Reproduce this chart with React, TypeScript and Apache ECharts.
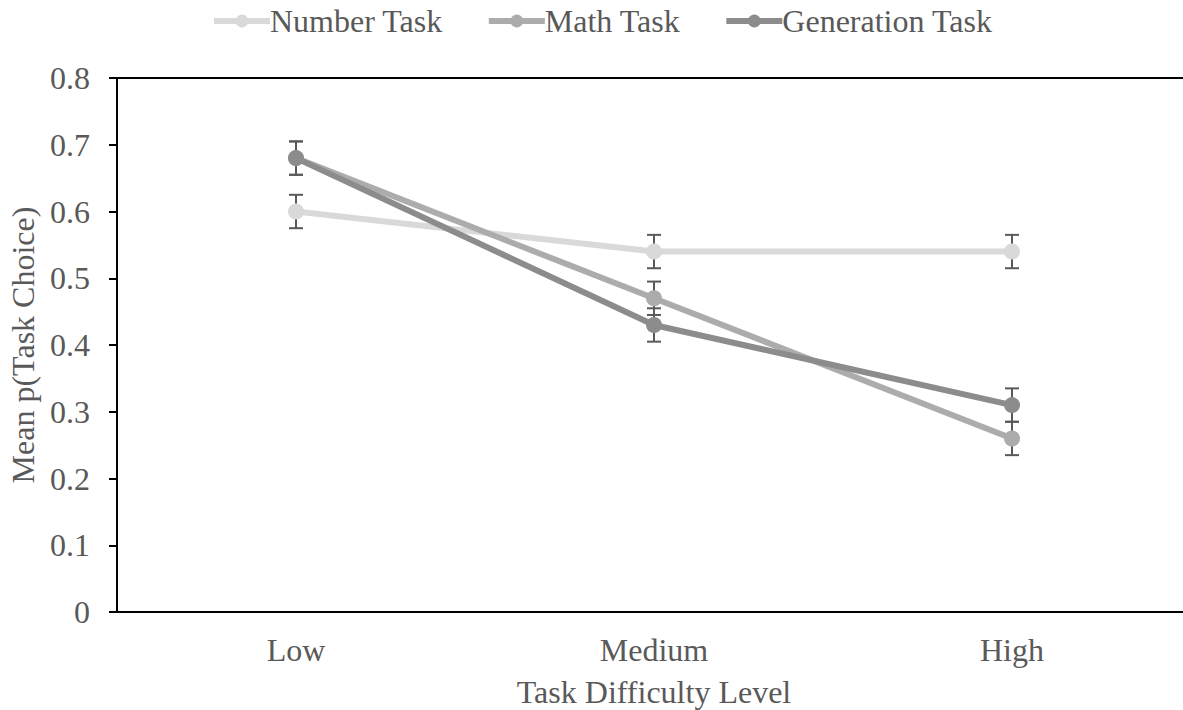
import React, { useEffect, useRef } from "react";
import * as echarts from "echarts";

const categories = ["Low", "Medium", "High"];
const numberTask = [0.6, 0.54, 0.54];
const mathTask = [0.68, 0.47, 0.26];
const generationTask = [0.68, 0.43, 0.31];
const numberErr = [0.025, 0.025, 0.025];
const mathErr = [0.025, 0.025, 0.025];
const generationErr = [0.025, 0.025, 0.025];
const yTicks = [0, 0.1, 0.2, 0.3, 0.4, 0.5, 0.6, 0.7, 0.8];

const FONT = "'Liberation Serif', 'Times New Roman', serif";
const TEXT = "#595959";
const FS = 32;

function errSeries(name: string, vals: number[], errs: number[]) {
  return {
    type: "custom",
    name: name + " err",
    z: 1,
    silent: true,
    data: vals.map((v, i) => [i, v - errs[i], v + errs[i]]),
    renderItem: (params: any, api: any) => {
      const i = api.value(0);
      const lo = api.coord([i, api.value(1)]);
      const hi = api.coord([i, api.value(2)]);
      const w = 7;
      const style = { stroke: "#595959", lineWidth: 2 };
      return {
        type: "group",
        children: [
          { type: "line", shape: { x1: lo[0], y1: lo[1], x2: hi[0], y2: hi[1] }, style },
          { type: "line", shape: { x1: lo[0] - w, y1: lo[1], x2: lo[0] + w, y2: lo[1] }, style },
          { type: "line", shape: { x1: hi[0] - w, y1: hi[1], x2: hi[0] + w, y2: hi[1] }, style },
        ],
      };
    },
  };
}

function lineSeries(name: string, vals: number[], color: string) {
  return {
    type: "line",
    name,
    data: vals,
    z: 3,
    symbol: "circle",
    symbolSize: 16,
    lineStyle: { color, width: 6 },
    itemStyle: { color },
  };
}

export default function App() {
  const ref = useRef<HTMLDivElement>(null);
  useEffect(() => {
    document.body.style.margin = "0";
    const chart = echarts.init(ref.current!, null, { renderer: "svg" });
    chart.setOption({
      animation: false,
      textStyle: { fontFamily: FONT },
      legend: {
        top: 0,
        left: 206,
        itemWidth: 56,
        itemHeight: 16,
        itemGap: 43,
        lineStyle: { width: 6 },
        textStyle: { fontFamily: FONT, fontSize: FS, color: TEXT, padding: [0, 0, 0, -5] },
        data: ["Number Task", "Math Task", "Generation Task"],
      },
      grid: {
        left: 117,
        right: -8,
        top: 78,
        bottom: 98,
        containLabel: false,
        outerBoundsMode: "none",
      },
      xAxis: [
        {
          type: "category",
          data: categories,
          position: "bottom",
          axisLine: { lineStyle: { color: "#000", width: 2 } },
          axisTick: { show: false },
          axisLabel: { fontFamily: FONT, fontSize: FS, color: TEXT, margin: 22 },
          name: "Task Difficulty Level",
          nameLocation: "middle",
          nameGap: 64,
          nameTextStyle: { fontFamily: FONT, fontSize: FS, color: TEXT },
        },
        {
          type: "category",
          data: categories,
          position: "top",
          axisLine: { show: true, lineStyle: { color: "#000", width: 2 } },
          axisTick: { show: false },
          axisLabel: { show: false },
        },
      ],
      yAxis: {
        type: "value",
        min: 0,
        max: 0.8,
        interval: 0.1,
        axisLine: { show: true, lineStyle: { color: "#000", width: 2 } },
        axisTick: { show: true, length: 8, lineStyle: { color: "#000", width: 2 } },
        splitLine: { show: false },
        axisLabel: {
          fontFamily: FONT,
          fontSize: FS,
          color: TEXT,
          margin: 27,
          formatter: (v: number) => {
            const t = yTicks.find((k) => Math.abs(k - v) < 1e-6);
            return t === 0 ? "0" : String(Math.round(v * 10) / 10);
          },
        },
        name: "Mean p(Task Choice)",
        nameLocation: "middle",
        nameGap: 66,
        nameTextStyle: { fontFamily: FONT, fontSize: FS, color: TEXT },
      },
      series: [
        errSeries("Number Task", numberTask, numberErr),
        errSeries("Math Task", mathTask, mathErr),
        errSeries("Generation Task", generationTask, generationErr),
        lineSeries("Number Task", numberTask, "#d9d9d9"),
        lineSeries("Math Task", mathTask, "#acacac"),
        lineSeries("Generation Task", generationTask, "#8c8c8c"),
      ],
    });
    return () => chart.dispose();
  }, []);
  return <div ref={ref} style={{ width: 1183, height: 710 }} />;
}
